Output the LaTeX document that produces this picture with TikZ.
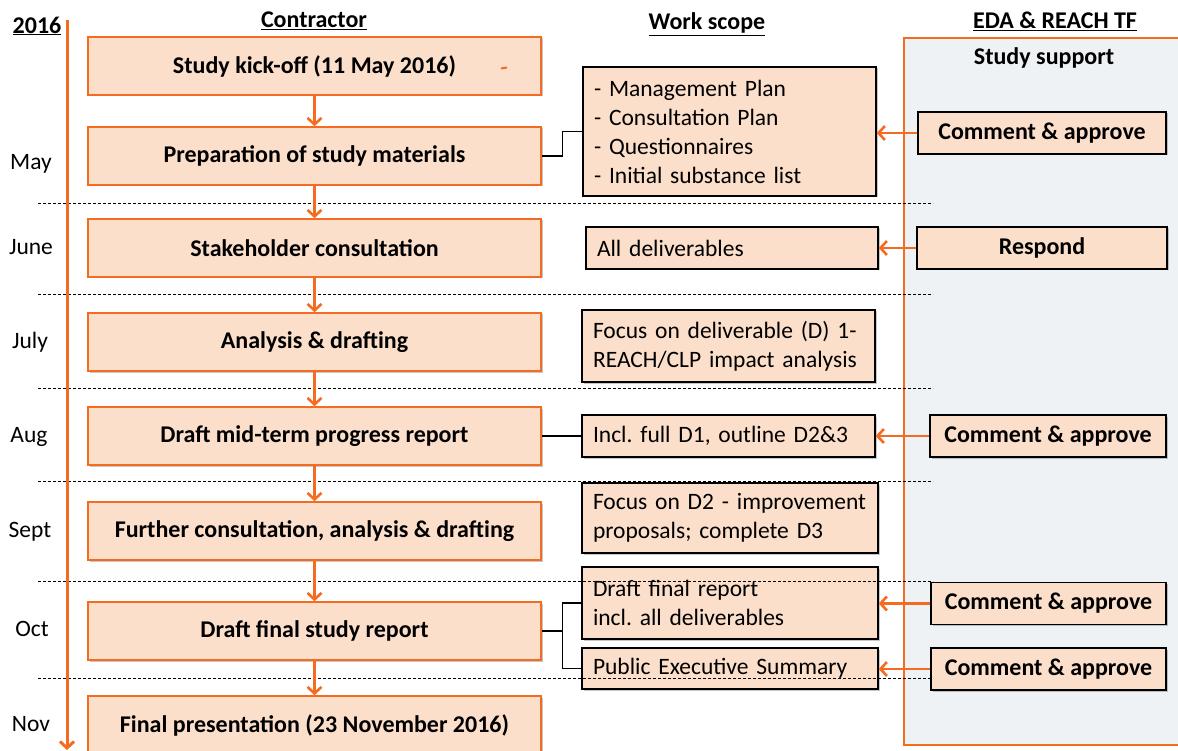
\documentclass[tikz,border=0pt]{standalone}
\usepackage{fontspec}
\setmainfont{Carlito}
\usetikzlibrary{arrows.meta,shadows}

\definecolor{orng}{HTML}{F36C21}
\definecolor{peach}{HTML}{FCDFCB}
\definecolor{panelbg}{HTML}{EEF2F4}

\newcommand\fsHead{\fontsize{24}{28}\selectfont\bfseries}
\newcommand\fsStage{\fontsize{24}{28}\selectfont\bfseries}
\newcommand\fsScope{\fontsize{23.5}{29}\selectfont\frenchspacing}
\newcommand\fsMonth{\fontsize{23.5}{28}\selectfont}

\tikzset{
  softshadow/.style={drop shadow={shadow xshift=1.5pt, shadow yshift=-1.5pt, opacity=0.22, fill=black}},
  stagebox/.style={draw=orng, line width=1.6pt, fill=peach, minimum width=453pt,
    minimum height=58pt, inner sep=0pt, font=\fsStage, softshadow},
  scopebox/.style={draw=black, line width=1.3pt, fill=peach, inner xsep=11pt, inner ysep=0pt,
    align=left, font=\fsScope, softshadow},
  tfbox/.style={draw=black, line width=1.3pt, fill=peach, minimum height=42pt,
    inner sep=0pt, font=\fsStage, softshadow},
  month/.style={font=\fsMonth, inner sep=0pt},
  heading/.style={font=\fsHead, inner sep=0pt},
  flow/.style={draw=orng, line width=2.6pt, -{Straight Barb[length=6.5pt,width=14pt]}},
  feedback/.style={draw=orng, line width=2.6pt, -{Straight Barb[length=6.5pt,width=14pt]}},
  link/.style={draw=black, line width=1.1pt},
  monthsep/.style={draw=black, line width=1pt, dash pattern=on 3pt off 2pt},
  timeline/.style={draw=orng, line width=3pt, -{Straight Barb[length=6.5pt,width=14pt]}}
}

\begin{document}
\begin{tikzpicture}[x=1pt,y=-1pt]
\useasboundingbox (0,0) rectangle (1178,751);
\clip (0,0) rectangle (1178,751);

% right-hand panel of the task force
\draw[orng, line width=1.3pt, fill=panelbg] (904,38) rectangle (1195,745);

% column headings
\node[heading] (year) at (37,26) {\underline{2016}};
\node[heading] (hcon) at (314,21) {\underline{Contractor}};
\node[heading] (hwork) at (707,24) {\underline{Work scope}};
\node[heading] (htf) at (1055,21) {\underline{EDA \& REACH TF}};
\node[heading] (hsup) at (1044,58) {Study support};

% months
\node[month] (mMay)  at (31,164) {May};
\node[month] (mJun)  at (31,247) {June};
\node[month] (mJul)  at (30,342) {July};
\node[month] (mAug)  at (29,437) {Aug};
\node[month] (mSep)  at (30,532) {Sept};
\node[month] (mOct)  at (32,629) {Oct};
\node[month] (mNov)  at (31,724) {Nov};

% contractor stages
\node[stagebox] (s1) at (314.5,66)  {Study kick-off (11 May 2016)};
\node[stagebox] (s2) at (314.5,156) {Preparation of study materials};
\node[stagebox] (s3) at (314.5,248) {Stakeholder consultation};
\node[stagebox] (s4) at (314.5,342) {Analysis \& drafting};
\node[stagebox] (s5) at (314.5,436) {Draft mid-term progress report};
\node[stagebox] (s6) at (314.5,531) {Further consultation, analysis \& drafting};
\node[stagebox] (s7) at (314.5,631) {Draft final study report};
\node[stagebox] (s8) at (314.5,725) {Final presentation (23 November 2016)};
\draw[orng, line width=2pt] (501,68.5) -- (507,67.5);

% work scope
\node[scopebox, minimum width=293pt, minimum height=129pt, text width=271pt] (wA) at (729.5,131.5)
  {- Management Plan\\- Consultation Plan\\- Questionnaires\\- Initial substance list};
\node[scopebox, minimum width=292pt, minimum height=42pt, text width=270pt] (wB) at (732,248)
  {All deliverables};
\node[scopebox, minimum width=293pt, minimum height=72pt, text width=271pt] (wC) at (728.5,346)
  {Focus on deliverable (D) 1-\\REACH/CLP impact analysis};
\node[scopebox, minimum width=293pt, minimum height=42pt, text width=271pt] (wD) at (728.5,436)
  {Incl. full D1, outline D2\&3};
\node[scopebox, minimum width=296pt, minimum height=70pt, text width=274pt] (wE) at (730,518)
  {Focus on D2 - improvement\\proposals; complete D3};
\node[scopebox, minimum width=296pt, minimum height=72pt, text width=274pt] (wF) at (730,603)
  {Draft final report\\incl. all deliverables};
\node[scopebox, minimum width=296pt, minimum height=41pt, text width=274pt] (wG) at (730,668.5)
  {Public Executive Summary};

% task force actions
\node[tfbox, minimum width=248pt] (t1) at (1042,133)   {Comment \& approve};
\node[tfbox, minimum width=250pt] (t2) at (1042,248)   {Respond};
\node[tfbox, minimum width=236pt] (t3) at (1048,436)   {Comment \& approve};
\node[tfbox, minimum width=235pt] (t4) at (1048.5,603.5) {Comment \& approve};
\node[tfbox, minimum width=235pt] (t5) at (1048.5,669) {Comment \& approve};

% month separators
\foreach \yy in {204,295,388,481,581,678}
  \draw[monthsep] (38,\yy) -- (933,\yy);

% timeline
\coordinate (tltop) at (67,20);
\coordinate (tlbot) at (67,750);
\draw[timeline] (tltop) -- (tlbot);

% stage sequence
\foreach \a/\b in {s1/s2,s2/s3,s3/s4,s4/s5,s5/s6,s6/s7,s7/s8}
  \draw[flow] (\a.south) -- (\b.north);

% stages to their work scope
\draw[link] (s2.east) -- ++(21,0) |- (wA.west);
\draw[link] (s5.east) -- (wD.west);
\coordinate (fk) at ([xshift=21pt]s7.east);
\draw[link] (s7.east) -- (fk);
\draw[link] (fk) |- (wF.west);
\draw[link] (fk) |- (wG.west);

% task force feedback
\draw[feedback] (t1.west) -- (t1.west -| wA.east);
\draw[feedback] (t2.west) -- (t2.west -| wB.east);
\draw[feedback] (t3.west) -- (t3.west -| wD.east);
\draw[feedback] (t4.west) -- (t4.west -| wF.east);
\draw[feedback] (t5.west) -- (t5.west -| wG.east);
\end{tikzpicture}
\end{document}
